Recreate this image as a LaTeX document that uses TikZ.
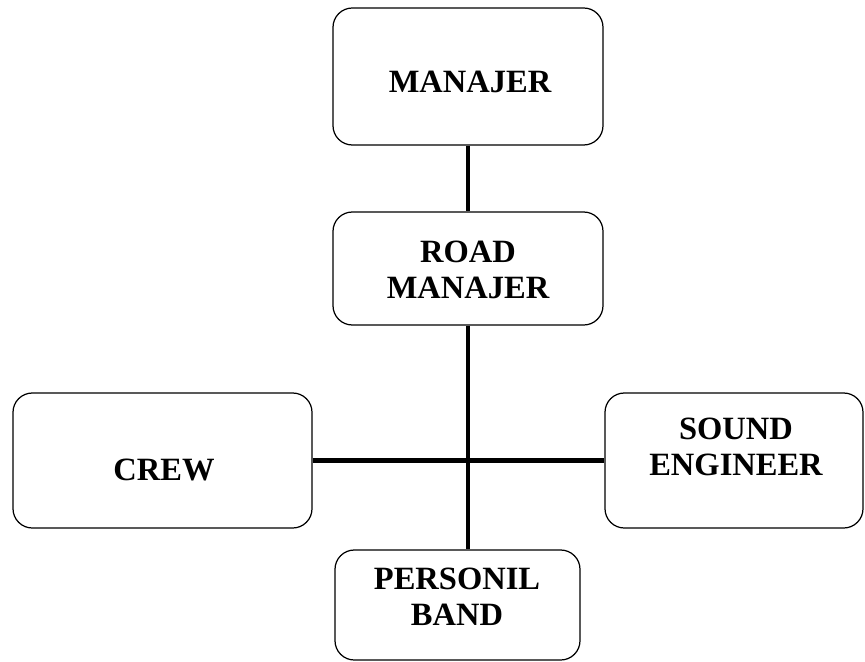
\documentclass[tikz,border=0pt]{standalone}
\usepackage{fontspec}
\setmainfont{Liberation Serif}
\usetikzlibrary{positioning}

\tikzset{
  orgbox/.style={draw, line width=0.7pt, rounded corners=11pt, inner sep=0pt},
  orgtext/.style={font=\fontsize{18.5}{20.5}\selectfont\bfseries, align=center, inner sep=0pt},
  link/.style={line width=2.6pt}
}

\begin{document}
\begin{tikzpicture}[x=0.02cm, y=-0.02cm]
  \useasboundingbox (0,0) rectangle (865,662);
  % boxes
  \node[orgbox, minimum width=270*0.02cm, minimum height=137*0.02cm] (man) at (468,76.5) {};
  \node[orgbox, minimum width=270*0.02cm, minimum height=113*0.02cm] (road) at (468,268.5) {};
  \node[orgbox, minimum width=299*0.02cm, minimum height=135*0.02cm] (crew) at (162.5,460.5) {};
  \node[orgbox, minimum width=258*0.02cm, minimum height=135*0.02cm] (sound) at (734,460.5) {};
  \node[orgbox, minimum width=245*0.02cm, minimum height=110*0.02cm] (band) at (457.5,605) {};
  % labels
  \node[orgtext] (man-t) at (470,82) {MANAJER};
  \node[orgtext] (road-t) at (468,270) {ROAD\\MANAJER};
  \node[orgtext] (crew-t) at (164,470) {CREW};
  \node[orgtext] (sound-t) at (736,447) {SOUND\\ENGINEER};
  \node[orgtext] (band-t) at (457,597) {PERSONIL\\BAND};
  % connectors
  \draw[link] (man) -- (road);
  \draw[link] (road.south) -- (road.south |- band.north);
  \draw[link] (crew.east) -- (sound.west);
\end{tikzpicture}
\end{document}
